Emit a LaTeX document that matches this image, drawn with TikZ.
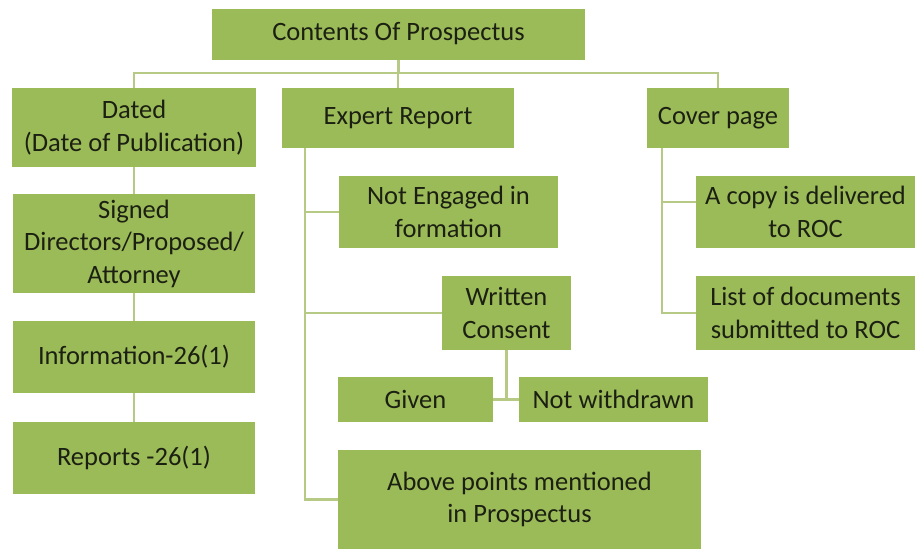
\documentclass[tikz,border=0pt]{standalone}
\usepackage{fontspec}
\setmainfont{Carlito}
\definecolor{boxgreen}{HTML}{9BBB59}
\definecolor{linkgreen}{RGB}{182,202,134}
\definecolor{inkdark}{RGB}{28,32,18}
\tikzset{
  gbox/.style={rectangle, fill=boxgreen, draw=none, inner sep=0pt,
    align=center, text=inkdark,
    font=\fontsize{26.5}{32.5}\selectfont},
  link/.style={draw=linkgreen, line width=2.4pt}
}
\begin{document}
\begin{tikzpicture}[x=1pt, y=-1pt]
\useasboundingbox (0,0) rectangle (915,549);

% boxes
\node[gbox, minimum width=373pt, minimum height=51pt] (top) at (398.5,34) {Contents Of Prospectus};
\node[gbox, minimum width=244pt, minimum height=79pt] (dated) at (134,127.5) {Dated\\(Date of Publication)};
\node[gbox, minimum width=232pt, minimum height=60pt] (expert) at (398,118) {Expert Report};
\node[gbox, minimum width=142pt, minimum height=60pt] (cover) at (718,118) {Cover page};

\node[gbox, minimum width=242pt, minimum height=99pt] (signed) at (134,243.5) {Signed\\Directors/Proposed/\\Attorney};
\node[gbox, minimum width=242pt, minimum height=72pt] (info) at (134,357) {Information-26(1)};
\node[gbox, minimum width=242pt, minimum height=72pt] (reports) at (134,458) {Reports -26(1)};

\node[gbox, minimum width=219pt, minimum height=72pt] (noteng) at (448.5,212) {Not Engaged in\\formation};
\node[gbox, minimum width=129pt, minimum height=74pt] (written) at (506.5,313) {Written\\Consent};
\node[gbox, minimum width=155pt, minimum height=45pt] (given) at (415.5,399.5) {Given};
\node[gbox, minimum width=189pt, minimum height=45pt] (notwd) at (613.5,399.5) {Not withdrawn};
\node[gbox, minimum width=363pt, minimum height=99pt] (above) at (519.5,499.5) {Above points mentioned\\in Prospectus};

\node[gbox, minimum width=219pt, minimum height=72pt] (copy) at (805.5,212) {A copy is delivered\\to ROC};
\node[gbox, minimum width=219pt, minimum height=74pt] (list) at (805.5,313) {List of documents\\submitted to ROC};

% top-level bus
\coordinate (bus) at (0,73);
\draw[link] (top.south) -- (top.south |- bus);
\draw[link] (dated.north) -- (dated.north |- bus) -- (cover.north |- bus) -- (cover.north);
\draw[link] (expert.north) -- (expert.north |- bus);

% left column chain
\draw[link] (dated.south) -- (signed.north);
\draw[link] (signed.south) -- (info.north);
\draw[link] (info.south) -- (reports.north);

% expert report spine
\coordinate (espine) at (305,148);
\draw[link] (espine) |- (above.west);
\draw[link] (espine |- noteng.west) -- (noteng.west);
\draw[link] (espine |- written.west) -- (written.west);

% written consent branches
\draw[link] (written.south) -- (written.south |- given.east);
\draw[link] (given.east) -- (notwd.west);

% cover page spine
\coordinate (cspine) at (662,148);
\coordinate (copybranch) at ([yshift=10pt]copy.west);
\draw[link] (cspine) |- (list.west);
\draw[link] (cspine |- copybranch) -- (copybranch);
\end{tikzpicture}
\end{document}
